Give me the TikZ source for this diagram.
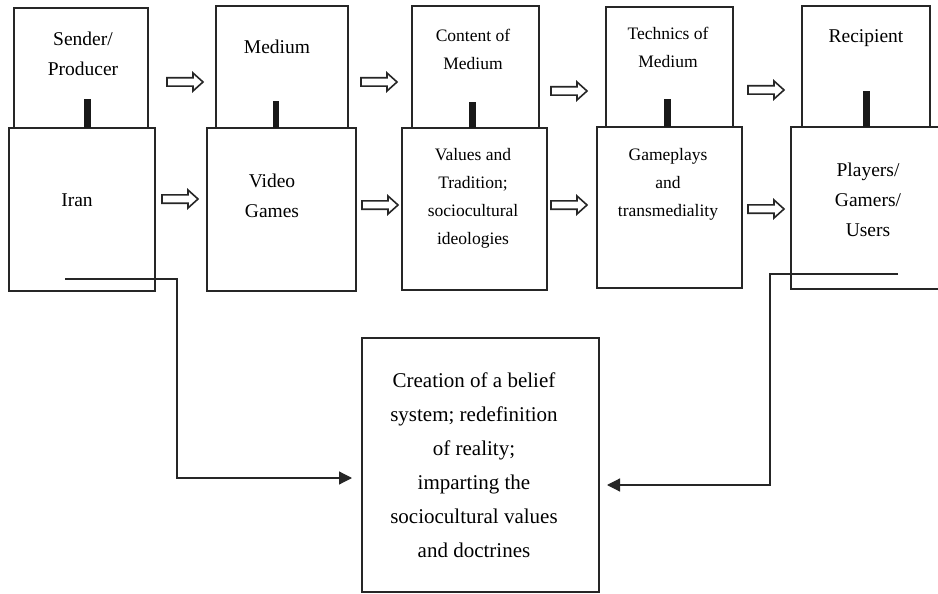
\documentclass[tikz,border=0pt]{standalone}
\usepackage{fontspec}
\setmainfont{Liberation Serif}
\usetikzlibrary{arrows.meta}
\begin{document}
\begin{tikzpicture}[x=1pt,y=-1pt,
  box/.style={draw=black!85, line width=1.2pt, inner sep=0pt, rectangle},
  bigtxt/.style={align=center, font=\fontsize{19.5}{30}\selectfont, inner sep=0pt},
  smalltxt/.style={align=center, font=\fontsize{17.5}{28}\selectfont, inner sep=0pt},
  restxt/.style={align=center, font=\fontsize{21}{34}\selectfont, inner sep=0pt},
  stem/.style={line width=6.5pt, draw=black!90},
  link/.style={line width=1.2pt, draw=black!85},
  tip/.style={-{Triangle[length=13pt,width=13pt]}},
  hollow/.pic={\draw[line width=1.6pt, draw=black!85, fill=white, line join=miter] (0,-4.2) -- (26,-4.2) -- (26,-9) -- (36,0) -- (26,9) -- (26,4.2) -- (0,4.2) -- cycle;}
]
\useasboundingbox (0,0) rectangle (938,594);
\clip (0,0) rectangle (938,594);
\fill[white] (0,0) rectangle (938,594);

% top boxes
\node[box, minimum width=134, minimum height=120] (t1) at (81,68) {};
\node[box, minimum width=132, minimum height=122] (t2) at (282,67) {};
\node[box, minimum width=127, minimum height=122] (t3) at (475.5,67) {};
\node[box, minimum width=127, minimum height=120] (t4) at (669.5,67) {};
\node[box, minimum width=128, minimum height=121] (t5) at (866,66.5) {};

% bottom boxes
\node[box, minimum width=146, minimum height=163] (b1) at (82,209.5) {};
\node[box, minimum width=149, minimum height=163] (b2) at (281.5,209.5) {};
\node[box, minimum width=145, minimum height=162] (b3) at (474.5,209) {};
\node[box, minimum width=145, minimum height=161] (b4) at (669.5,207.5) {};
\node[box, minimum width=159, minimum height=162] (b5) at (870.5,208) {};

% result box
\node[box, line width=1.4pt, minimum width=237, minimum height=254] (r) at (480.5,465) {};

% stems
\draw[stem] (87.5,128) -- (87.5,99);
\draw[stem] (276,128) -- (276,101);
\draw[stem] (472.5,128) -- (472.5,102);
\draw[stem] (667.5,127) -- (667.5,99);
\draw[stem] (866.5,127) -- (866.5,91);

% texts top
\node[bigtxt] (l1) at (83,54) {Sender/\\Producer};
\node[bigtxt] (l2) at (277,47) {Medium};
\node[smalltxt] (l3) at (473,49) {Content of\\Medium};
\node[smalltxt] (l4) at (668,47.5) {Technics of\\Medium};
\node[bigtxt] (l5) at (866,38) {Recipient};

% texts bottom
\node[bigtxt] (m1) at (77,200) {Iran};
\node[bigtxt] (m2) at (272,196) {Video\\Games};
\node[smalltxt] (m3) at (473,198) {Values and\\Tradition;\\sociocultural\\ideologies};
\node[smalltxt] (m4) at (668,184) {Gameplays\\and\\transmediality};
\node[bigtxt] (m5) at (868,200) {Players/\\Gamers/\\Users};

\node[restxt] (rt) at (474,465) {Creation of a belief\\system; redefinition\\of reality;\\imparting the\\sociocultural values\\and doctrines};

% hollow arrows
\pic at (167,82) {hollow};
\pic at (361,82) {hollow};
\pic at (551,91) {hollow};
\pic at (748,90) {hollow};
\pic at (162,199) {hollow};
\pic at (362,205) {hollow};
\pic at (551,205) {hollow};
\pic at (748,209) {hollow};

% connectors
\coordinate (ls) at (65,279);
\coordinate (la) at (352,478);
\draw[link,tip] (ls) -| (177,478) -- (la);
\coordinate (rs) at (898,274);
\coordinate (ra) at (607,485);
\draw[link,tip] (rs) -| (770,485) -- (ra);
\end{tikzpicture}
\end{document}
